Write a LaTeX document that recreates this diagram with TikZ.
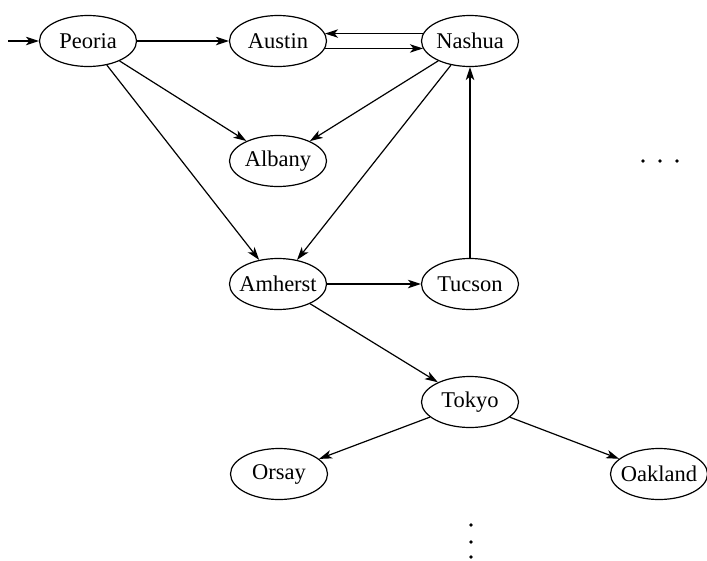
\documentclass[tikz,border=0pt]{standalone}
\usepackage{fontspec}
\setmainfont{Liberation Serif}
\usetikzlibrary{arrows.meta,shapes.geometric}
\begin{document}
\begin{tikzpicture}[x=1pt,y=-1pt,
  city/.style={ellipse,draw,line width=1.2pt,minimum width=97pt,minimum height=51pt,inner xsep=-8pt,inner ysep=0pt,font=\fontsize{22.5}{26}\selectfont},
  arr/.style={-{Stealth[length=13pt,width=8.5pt,inset=3.5pt]},line width=1.2pt},
  dotmark/.style={circle,fill,inner sep=0pt,minimum size=3.8pt}]
\useasboundingbox (0,0) rectangle (707,560);
\node[city] (Peoria)  at (88,41)  {Peoria};
\node[city] (Austin)  at (278,41) {Austin};
\node[city] (Nashua)  at (470,41) {Nashua};
\node[city] (Albany)  at (278,161) {Albany};
\node[city] (Amherst) at (278,284) {Amherst};
\node[city] (Tucson)  at (470,284) {Tucson};
\node[city] (Tokyo)   at (470,402) {Tokyo};
\node[city] (Orsay)   at (279,474) {Orsay};
\node[city] (Oakland) at (659,474) {Oakland};
\coordinate (start) at (8,41);
\draw[arr] (start) -- (Peoria);
\draw[arr] (Peoria) -- (Austin);
\draw[arr] (Nashua.171) -- (Austin.9);
\draw[arr] (Austin.-9) -- (Nashua.-171);
\draw[arr] (Peoria) -- (Albany);
\draw[arr] (Peoria) -- (Amherst);
\draw[arr] (Nashua) -- (Albany);
\draw[arr] (Nashua) -- (Amherst);
\draw[arr] (Tucson) -- (Nashua);
\draw[arr] (Amherst) -- (Tucson);
\draw[arr] (Amherst) -- (Tokyo);
\draw[arr] (Tokyo) -- (Orsay);
\draw[arr] (Tokyo) -- (Oakland);
\node[dotmark] (h1) at (643,161) {};
\node[dotmark] (h2) at (660,161) {};
\node[dotmark] (h3) at (677,161) {};
\node[dotmark] (v1) at (471,525) {};
\node[dotmark] (v2) at (471,542) {};
\node[dotmark] (v3) at (471,557) {};
\end{tikzpicture}
\end{document}
